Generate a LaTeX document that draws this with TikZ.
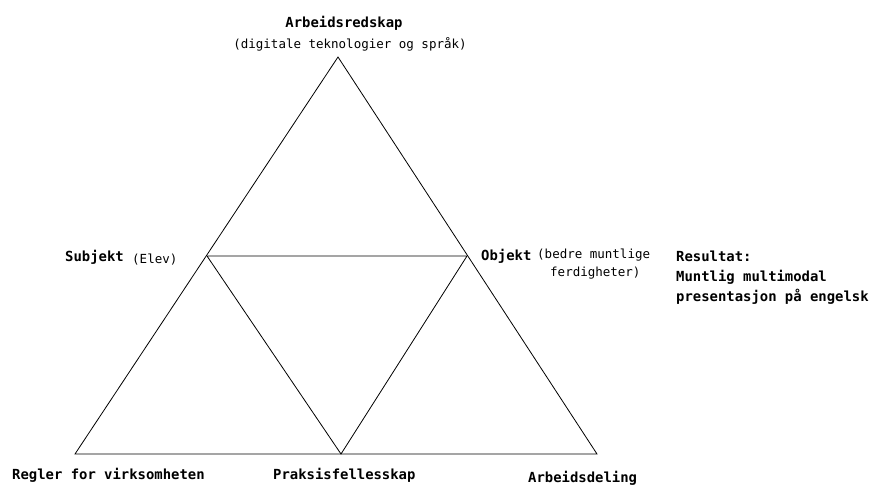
\documentclass[tikz,border=0pt]{standalone}
\usepackage{fontspec}
\setmonofont{DejaVu Sans Mono}
\begin{document}
\begin{tikzpicture}[x=1pt,y=-1pt,
  edge/.style={draw=black,line width=0.8pt,line join=miter},
  lbl/.style={font=\ttfamily\bfseries\fontsize{13.9}{17}\selectfont,inner sep=0pt,text=black},
  sub/.style={font=\ttfamily\fontsize{12.5}{15}\selectfont,inner sep=0pt,text=black}]
\useasboundingbox (0,0) rectangle (874,484);
\coordinate (A) at (338,57);
\coordinate (L) at (75,454);
\coordinate (R) at (597,454);
\coordinate (ML) at (207,256);
\coordinate (MR) at (467,256);
\coordinate (MB) at (341,454);
\draw[edge] (A) -- (L) -- (R) -- cycle;
\draw[edge] (ML) -- (MR) -- (MB) -- cycle;
% top
\node[lbl] (tool) at (344,23) {Arbeidsredskap};
\node[sub] (toolsub) at (350,44) {(digitale teknologier og språk)};
% subject
\node[lbl,anchor=west] (subj) at (65,257) {Subjekt};
\node[sub,anchor=west] (subjsub) at (132,260) {(Elev)};
% object
\node[lbl,anchor=west] (obj) at (481,256) {Objekt};
\node[sub,anchor=west] (objsub1) at (537,255) {(bedre muntlige};
\node[sub,anchor=west] (objsub2) at (550,273) {ferdigheter)};
% result
\node[lbl,anchor=west] (res1) at (676,256) {Resultat:};
\node[lbl,anchor=west] (res2) at (676,277) {Muntlig multimodal};
\node[lbl,anchor=west] (res3) at (676,297) {presentasjon på engelsk};
% bottom
\node[lbl,anchor=west] (rules) at (12,475) {Regler for virksomheten};
\node[lbl,anchor=west] (comm) at (273,475) {Praksisfellesskap};
\node[lbl,anchor=west] (div) at (528,478) {Arbeidsdeling};
\end{tikzpicture}
\end{document}
